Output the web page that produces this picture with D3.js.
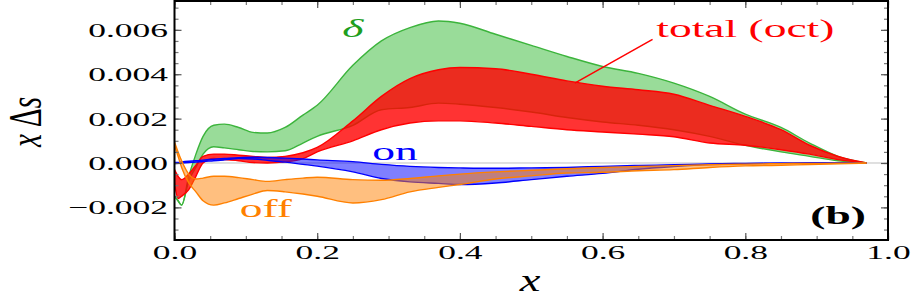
<!DOCTYPE html>
<html><head><meta charset="utf-8">
<script src="https://cdn.jsdelivr.net/npm/d3@7"></script>
<style>body{margin:0;background:#fff}svg{display:block}</style>
</head><body>
<svg id="c" width="913" height="300"></svg>
<script>
const xs = [0, 0.005, 0.01, 0.02, 0.03, 0.04, 0.055, 0.07, 0.09, 0.11, 0.13, 0.155, 0.18, 0.2, 0.25, 0.29, 0.33, 0.37, 0.4, 0.45, 0.5, 0.55, 0.6, 0.65, 0.7, 0.75, 0.8, 0.85, 0.89, 0.93, 0.97];
const deltaUpper = [-0.0015,-0.0017,-0.0019,-0.0006,0.0004,0.0012,0.0017,0.00175,0.0016,0.00138,0.00135,0.0016,0.00216,0.0026,0.0044,0.0055,0.0061,0.0064,0.0063,0.0058,0.0053,0.0048,0.00435,0.00404,0.0036,0.003,0.0022,0.0016,0.0009,0.0003,0];
const deltaLower = [-0.0015,-0.0017,-0.0019,-0.0008,-0.0002,0.0004,0.00073,0.00068,0.0006,0.00052,0.0005,0.00055,0.0009,0.0012,0.0017,0.0024,0.0025,0.0027,0.00265,0.0025,0.0023,0.00205,0.00185,0.0017,0.0015,0.0012,0.0008,0.0005,0.0003,0.0001,0];
const totalUpper = [-0.0003,-0.0006,-0.00075,-0.0005,-0.0001,0.0003,0.0004,0.0004,0.00035,0.0003,0.00025,0.0003,0.00046,0.0007,0.0019,0.003,0.0038,0.0042,0.0043,0.00425,0.004,0.0037,0.00346,0.0033,0.0031,0.0026,0.0021,0.0015,0.0008,0.0003,0];
const totalLower = [-0.0009,-0.0016,-0.0015,-0.0012,-0.0006,0,0.0002,0.00015,0.0001,0.00002,0,0.00005,0.0002,0.0005,0.001,0.0015,0.0018,0.0019,0.0019,0.0018,0.00165,0.0015,0.0014,0.0013,0.00118,0.0009,0.0008,0.0006,0.0004,0.00015,0];
const onUpper = [0.00002,0.00003,0.00005,0.00008,0.0001,0.00013,0.00017,0.0002,0.00024,0.00026,0.00025,0.00022,0.00018,0.00014,0.00006,-0.00006,-0.00015,-0.0002,-0.00022,-0.00024,-0.00022,-0.0002,-0.00015,-0.00011,-0.00008,-0.00004,-0.00002,-0.00001,0,0,0];
const onLower = [-0.00002,-0.00001,0,0.00002,0.00004,0.00007,0.0001,0.00014,0.0002,0.00018,0.00012,0.00004,-0.00006,-0.00014,-0.0004,-0.0007,-0.00085,-0.00092,-0.00097,-0.0009,-0.00075,-0.0006,-0.00047,-0.00028,-0.00016,-0.00007,-0.00003,-0.00001,0,0,0];
const offUpper = [0.00095,0.0005,0.0001,-0.0005,-0.00072,-0.00068,-0.0006,-0.0006,-0.00066,-0.00075,-0.00083,-0.00075,-0.00068,-0.00064,-0.00075,-0.00078,-0.0007,-0.00058,-0.0005,-0.0004,-0.00033,-0.00026,-0.0002,-0.00016,-0.00012,-0.00008,-0.00005,-0.00003,-0.00002,-0.00001,0];
const offLower = [0.0008,0.0003,-0.0002,-0.0009,-0.0013,-0.0017,-0.0019,-0.0018,-0.0016,-0.0014,-0.00124,-0.0013,-0.0014,-0.0015,-0.0018,-0.00165,-0.0013,-0.0011,-0.00097,-0.00072,-0.00058,-0.00045,-0.00042,-0.00035,-0.0003,-0.0002,-0.00013,-0.0001,-0.00007,-0.00004,0];
const xTickLabels = [0, 0.2, 0.4, 0.6, 0.8, 1.0];
const yTickLabels = [-0.002, 0, 0.002, 0.004, 0.006];
const labels = [
  {text: "δ", x: 0.25, y: 0.00566, color: "#1e9e1e", italic: true, bold: false},
  {text: "total (oct)", x: 0.80, y: 0.0057, color: "#ff0000", italic: false, bold: false},
  {text: "on", x: 0.309, y: 0.00015, color: "#0000ff", italic: false, bold: false},
  {text: "off", x: 0.128, y: -0.00245, color: "#ff8000", italic: false, bold: false},
  {text: "(b)", x: 0.93, y: -0.00273, color: "#000000", italic: false, bold: true}
];
const pointer = [[0.561, 0.0036], [0.670, 0.00557]];

const svg = d3.select("#c");
const L = 174.5, R = 888, T = 1, B = 240;
const FONT = "'Liberation Serif','Times New Roman','DejaVu Serif',serif";
const SX = 1.82;
const x = d3.scaleLinear().domain([0, 1]).range([L, R]);
const y = d3.scaleLinear().domain([-0.00347, 0.0073]).range([B, T]);

svg.append("clipPath").attr("id", "clip").append("rect")
  .attr("x", L).attr("y", T).attr("width", R - L).attr("height", B - T);
const plot = svg.append("g").attr("clip-path", "url(#clip)");

plot.append("line").attr("x1", L).attr("x2", R).attr("y1", y(0)).attr("y2", y(0))
  .attr("stroke", "#c0c0c0").attr("stroke-width", 1);

const curve = d3.curveMonotoneX;
function band(up, lo, fill, op, stroke) {
  const d = xs.map((v, i) => ({x: v, u: up[i], l: lo[i]}));
  const area = d3.area().curve(curve).x(p => x(p.x)).y0(p => y(p.l)).y1(p => y(p.u));
  plot.append("path").datum(d).attr("d", area).attr("fill", fill).attr("fill-opacity", op);
  const ln = k => d3.line().curve(curve).x(p => x(p.x)).y(p => y(p[k]));
  ["u", "l"].forEach(k => plot.append("path").datum(d).attr("d", ln(k))
    .attr("fill", "none").attr("stroke", stroke).attr("stroke-width", 1.4).attr("stroke-linejoin", "round"));
}
band(deltaUpper, deltaLower, "rgb(0,168,0)", 0.4, "#3cb43c");
band(totalUpper, totalLower, "rgb(255,0,0)", 0.8, "#ff0000");
band(onUpper, onLower, "rgb(0,0,255)", 0.5, "#0000ff");
band(offUpper, offLower, "rgb(255,128,0)", 0.5, "#ff8000");

plot.append("line")
  .attr("x1", x(pointer[0][0])).attr("y1", y(pointer[0][1]))
  .attr("x2", x(pointer[1][0])).attr("y2", y(pointer[1][1]))
  .attr("stroke", "#ff0000").attr("stroke-width", 1.5);

// axes
function styleTicks(g, col) {
  g.select(".domain").remove();
  g.selectAll(".tick line").attr("stroke", col).attr("stroke-width", 1.2);
}
const minorX = d3.range(0, 1.0001, 0.05);
const minorY = d3.range(-0.003, 0.00701, 0.0005);
svg.append("g").attr("transform", `translate(0,${B})`)
  .call(d3.axisBottom(x).tickValues(minorX).tickSize(-4).tickFormat(""))
  .call(g => styleTicks(g, "#777"));
svg.append("g").attr("transform", `translate(0,${T})`)
  .call(d3.axisTop(x).tickValues(minorX).tickSize(-4).tickFormat(""))
  .call(g => styleTicks(g, "#777"));
svg.append("g").attr("transform", `translate(${L},0)`)
  .call(d3.axisLeft(y).tickValues(minorY).tickSize(-4).tickFormat(""))
  .call(g => styleTicks(g, "#777"));
svg.append("g").attr("transform", `translate(${R},0)`)
  .call(d3.axisRight(y).tickValues(minorY).tickSize(-4).tickFormat(""))
  .call(g => styleTicks(g, "#777"));

const xa = svg.append("g").attr("transform", `translate(0,${B})`)
  .call(d3.axisBottom(x).tickValues(xTickLabels).tickSize(-7).tickFormat(d3.format(".1f")))
  .call(g => styleTicks(g, "#555"));
xa.selectAll(".tick text").attr("font-family", FONT).attr("font-size", 19.5).attr("fill", "#000")
  .attr("y", 19).attr("dy", 0).attr("transform", `scale(${SX},1)`);
const ya = svg.append("g").attr("transform", `translate(${L},0)`)
  .call(d3.axisLeft(y).tickValues(yTickLabels).tickSize(-7).tickFormat(d3.format(".3f")))
  .call(g => styleTicks(g, "#555"));
ya.selectAll(".tick text").attr("font-family", FONT).attr("font-size", 19.5).attr("fill", "#000")
  .attr("x", -6.5 / SX).attr("dy", "0.33em").attr("transform", `scale(${SX},1)`);
svg.append("g").attr("transform", `translate(0,${T})`)
  .call(d3.axisTop(x).tickValues(xTickLabels).tickSize(-7).tickFormat(""))
  .call(g => styleTicks(g, "#555"));
svg.append("g").attr("transform", `translate(${R},0)`)
  .call(d3.axisRight(y).tickValues(yTickLabels).tickSize(-7).tickFormat(""))
  .call(g => styleTicks(g, "#555"));

// frame
svg.append("rect").attr("x", L).attr("y", T).attr("width", R - L).attr("height", B - T)
  .attr("fill", "none").attr("stroke", "#000").attr("stroke-width", 2);

// labels
labels.forEach(l => {
  svg.append("text").attr("transform", `translate(${x(l.x)},${y(l.y)}) scale(${SX},1)`)
    .attr("text-anchor", "middle").attr("font-family", FONT).attr("font-size", 25)
    .attr("font-style", l.italic ? "italic" : "normal").attr("font-weight", l.bold ? "bold" : "normal")
    .attr("fill", l.color).text(l.text);
});

// axis titles
svg.append("text").attr("transform", `translate(530,291) scale(1.5,1)`)
  .attr("text-anchor", "middle").attr("font-family", FONT).attr("font-size", 31)
  .attr("font-style", "italic").text("x");
svg.append("text").attr("transform", `translate(41,122) scale(1.6,1) rotate(-90)`)
  .attr("text-anchor", "middle").attr("font-family", FONT).attr("font-size", 29)
  .html('<tspan font-style="italic">x</tspan> Δ<tspan font-style="italic">s</tspan>');
</script>
</body></html>
